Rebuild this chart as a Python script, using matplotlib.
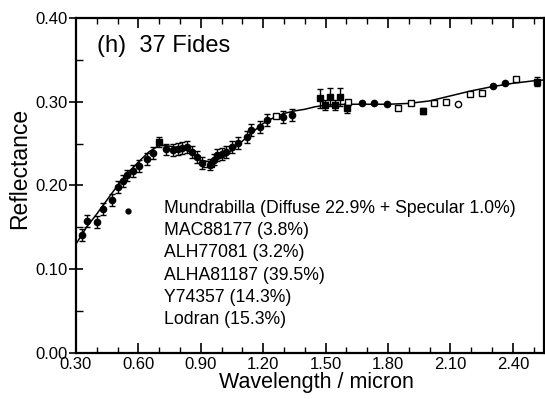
#!/usr/bin/env python3

import matplotlib
matplotlib.use("Agg")
import matplotlib.pyplot as plt
from matplotlib.ticker import MultipleLocator, FixedLocator

plt.rcParams['font.family'] = ['Liberation Sans', 'DejaVu Sans']

# model curve (meteorite mixture)
curve_x = [0.30, 0.35, 0.40, 0.45, 0.50, 0.55, 0.60, 0.65, 0.70, 0.75, 0.80, 0.85,
           0.90, 0.95, 1.00, 1.05, 1.10, 1.15, 1.20, 1.25, 1.30, 1.35, 1.40, 1.45,
           1.50, 1.60, 1.70, 1.80, 1.90, 2.00, 2.10, 2.20, 2.30, 2.40, 2.50, 2.55]
curve_y = [0.130, 0.150, 0.166, 0.183, 0.200, 0.215, 0.228, 0.240, 0.248, 0.247, 0.245, 0.240,
           0.230, 0.228, 0.233, 0.242, 0.253, 0.264, 0.274, 0.281, 0.286, 0.289, 0.291, 0.294,
           0.296, 0.297, 0.297, 0.297, 0.298, 0.301, 0.307, 0.313, 0.318, 0.322, 0.325, 0.326]

# visible spectrum, filled circles with error bars
vis_x = [0.33, 0.355, 0.40, 0.43, 0.475, 0.50, 0.525, 0.545, 0.575, 0.605, 0.64, 0.67,
         0.735, 0.765, 0.79, 0.81, 0.835, 0.86, 0.88, 0.905, 0.945, 0.965, 0.98,
         1.00, 1.02, 1.05, 1.08, 1.12, 1.14, 1.185, 1.22, 1.295, 1.34]
vis_y = [0.141, 0.158, 0.156, 0.172, 0.183, 0.198, 0.205, 0.212, 0.217, 0.223, 0.232, 0.239,
         0.243, 0.242, 0.244, 0.245, 0.246, 0.240, 0.234, 0.227, 0.225, 0.231, 0.236,
         0.238, 0.240, 0.246, 0.251, 0.258, 0.266, 0.270, 0.278, 0.282, 0.284]
vis_err = [0.007] * len(vis_x)

# filled squares with error bars
sq_x = [0.70, 1.473, 1.497, 1.52, 1.545, 1.57, 1.603, 1.968, 2.516]
sq_y = [0.252, 0.304, 0.296, 0.306, 0.296, 0.306, 0.293, 0.289, 0.324]
sq_err = [0.006, 0.011, 0.006, 0.011, 0.006, 0.011, 0.006, 0.004, 0.005]

# filled circles, near-IR
ir_x = [1.675, 1.733, 1.795, 2.305, 2.362]
ir_y = [0.299, 0.299, 0.297, 0.319, 0.322]

# open squares
open_sq_x = [0.925, 0.95, 1.26, 1.608, 1.848, 1.91, 2.02, 2.08, 2.194, 2.252, 2.415]
open_sq_y = [0.226, 0.226, 0.283, 0.300, 0.292, 0.298, 0.299, 0.300, 0.309, 0.310, 0.327]

# open circle and stray dot
open_circ_x = [2.137]
open_circ_y = [0.297]
dot_x = [0.55]
dot_y = [0.170]

mix_labels = [
    "Mundrabilla (Diffuse 22.9% + Specular 1.0%)",
    "MAC88177 (3.8%)",
    "ALH77081 (3.2%)",
    "ALHA81187 (39.5%)",
    "Y74357 (14.3%)",
    "Lodran (15.3%)",
]

x_ticks = [0.30, 0.60, 0.90, 1.20, 1.50, 1.80, 2.10, 2.40]
x_tick_labels = ["0.30", "0.60", "0.90", "1.20", "1.50", "1.80", "2.10", "2.40"]
y_ticks = [0.0, 0.1, 0.2, 0.3, 0.4]
y_tick_labels = ["0.00", "0.10", "0.20", "0.30", "0.40"]


def main():
    fig = plt.figure(figsize=(5.45, 3.99), dpi=100)
    ax = fig.add_axes([0.1394, 0.1153, 0.8588, 0.8396])

    ax.plot(curve_x, curve_y, color='black', linewidth=1.1, zorder=2)

    ax.errorbar(vis_x, vis_y, yerr=vis_err, fmt='o', color='black', markersize=4.5,
                elinewidth=1.0, capsize=2.5, capthick=1.0, zorder=3)
    ax.errorbar(sq_x, sq_y, yerr=sq_err, fmt='s', color='black', markersize=4.5,
                elinewidth=1.0, capsize=2.5, capthick=1.0, zorder=3)
    ax.plot(ir_x, ir_y, 'o', color='black', markersize=4.5, zorder=3)
    ax.plot(open_sq_x, open_sq_y, 's', markerfacecolor='white', markeredgecolor='black',
            markeredgewidth=1.0, markersize=4, linestyle='none', zorder=3)
    ax.plot(open_circ_x, open_circ_y, 'o', markerfacecolor='white', markeredgecolor='black',
            markeredgewidth=1.0, markersize=4.5, linestyle='none', zorder=3)
    ax.plot(dot_x, dot_y, 'o', color='black', markersize=3.5, zorder=3)

    ax.set_xlim(0.30, 2.55)
    ax.set_ylim(0.0, 0.40)

    ax.xaxis.set_major_locator(FixedLocator(x_ticks))
    ax.set_xticklabels(x_tick_labels)
    ax.xaxis.set_minor_locator(MultipleLocator(0.1))
    ax.yaxis.set_major_locator(FixedLocator(y_ticks))
    ax.set_yticklabels(y_tick_labels)
    ax.yaxis.set_minor_locator(MultipleLocator(0.05))

    ax.tick_params(axis='x', which='both', direction='in', top=True, bottom=True, labelsize=12)
    ax.tick_params(axis='x', which='major', length=7, width=1.2, pad=3)
    ax.tick_params(axis='x', which='minor', length=4, width=1.0)
    ax.tick_params(axis='y', which='major', direction='inout', length=10, width=1.2,
                   labelsize=12, pad=1)
    ax.tick_params(axis='y', which='minor', direction='in', length=5, width=1.0)
    for sp in ax.spines.values():
        sp.set_linewidth(1.6)

    ax.set_xlabel("Wavelength / micron", fontsize=15.5)
    ax.set_ylabel("Reflectance", fontsize=16.5)
    ax.xaxis.set_label_coords(0.513, -0.058, transform=ax.transAxes)
    ax.yaxis.set_label_coords(-0.095, 0.552, transform=ax.transAxes)

    ax.text(0.40, 0.366, "(h)  37 Fides", fontsize=17, va='center', ha='left')
    for i, lab in enumerate(mix_labels):
        ax.text(0.725, 0.173 - i * 0.0267, lab, fontsize=12.7, va='center', ha='left')

    fig.savefig("out.png", dpi=100)


if __name__ == "__main__":
    main()
